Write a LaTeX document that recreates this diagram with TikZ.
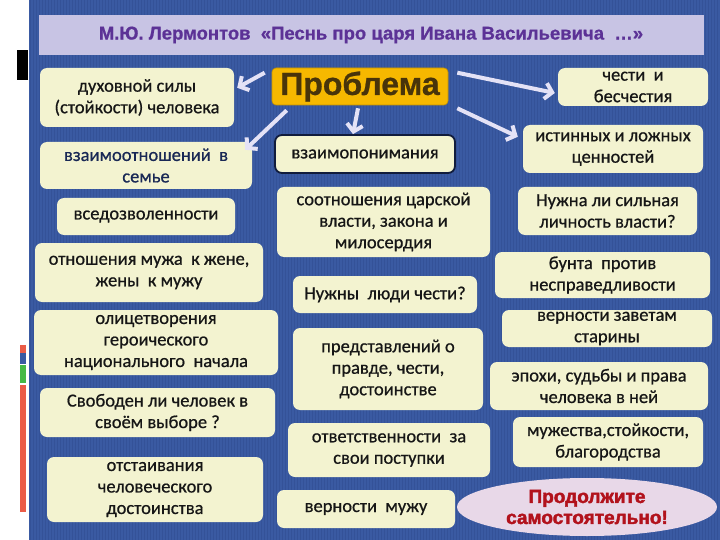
\documentclass[tikz,border=0pt]{standalone}
\usepackage{fontspec}
\setmainfont{Carlito}[FakeBold=0.7]
\newfontfamily\arialbf{Liberation Sans}[UprightFont={* Bold}, FakeBold=0.8]
\newfontfamily\heavyfont{Liberation Sans}[UprightFont={* Bold}, FakeBold=2.2]
\usetikzlibrary{arrows.meta,calc,shapes.geometric}
\definecolor{bgblue}{RGB}{58,90,162}
\definecolor{stripe}{RGB}{52,82,152}
\definecolor{cream}{RGB}{243,243,208}
\definecolor{band}{RGB}{200,196,228}
\definecolor{titlecol}{RGB}{92,50,150}
\definecolor{probfill}{RGB}{246,184,0}
\definecolor{probtext}{RGB}{72,52,10}
\definecolor{arrowcol}{RGB}{228,226,246}
\definecolor{txt}{RGB}{22,22,22}
\definecolor{navytxt}{RGB}{25,40,85}
\definecolor{ellfill}{RGB}{232,216,232}
\definecolor{redtxt}{RGB}{178,18,28}
\tikzset{
  box/.style={rectangle, rounded corners=7pt, fill=cream, text=txt, align=center,
    inner sep=0pt, font=\fontsize{18.5}{21.5}\selectfont},
  arr/.style={draw=arrowcol, line width=4pt, -{Straight Barb[length=7pt,width=16pt]}},
}
\newcommand{\bx}[6]{% name, x1, y1, x2, y2, text
  \node[box, minimum width={(#4-#2)*1pt}, minimum height={(#5-#3)*1pt}] (#1) at ({(#2+#4)/2},{(#3+#5)/2}) {#6};}
\begin{document}
\begin{tikzpicture}[x=1pt,y=-1pt]
\useasboundingbox (0,0) rectangle (720,540);
\fill[white] (0,0) rectangle (720,540);
\fill[bgblue] (29,0) rectangle (720,540);
\foreach \i in {0,...,229} {\draw[stripe, line width=1pt] ({30.5+3*\i},0) -- ({30.5+3*\i},540);}
\fill[black] (17,50) rectangle (28,80);
\fill[red!60!brown!80] (20,345) rectangle (26,353);
\fill[bgblue] (20,353) rectangle (26,364);
\fill[green!45!gray] (20,365) rectangle (26,383);
\fill[red!60!brown!80] (20,385) rectangle (26,512);
% title
\node[fill=band, minimum width=665pt, minimum height=40pt, inner sep=0pt, text=titlecol,
  font=\arialbf\fontsize{18.5}{20}\selectfont] (title) at (371,35)
  {М.Ю. Лермонтов\ \ «Песнь про царя Ивана Васильевича\ \ …»};
% problem
\node[rectangle, rounded corners=4pt, fill=probfill, draw=probfill!80!black, line width=0.6pt,
  minimum width=176pt, minimum height=37pt, inner sep=0pt, text=probtext,
  font=\arialbf\fontsize{32}{34}\selectfont] (prob) at (360,86.5) {Проблема};
% left column
\bx{l1}{40}{68}{234}{127}{духовной силы\\(стойкости) человека}
\node[box, minimum width=212pt, minimum height=47pt, text=navytxt] (l2) at (146,165.5) {взаимоотношений\ \ в\\семье};
\bx{l3}{57}{198}{235}{235}{вседозволенности}
\bx{l4}{35}{243}{263}{302}{отношения мужа\ \ к жене,\\жены\ \ к мужу}
\bx{l5}{34}{310}{278}{375}{олицетворения\\героического\\национального\ \ начала}
\bx{l6}{40}{388}{275}{437}{Свободен ли человек в\\своём выборе ?}
\bx{l7}{47}{457}{263}{522}{отстаивания\\человеческого\\достоинства}
% middle column
\node[box, draw=navytxt!70!black, line width=1.8pt, minimum width=180pt, minimum height=38pt] (m1) at (365,154) {взаимопонимания};
\bx{m2}{277}{187}{490}{257}{соотношения царской\\власти, закона и\\милосердия}
\bx{m3}{293}{276}{477}{313}{Нужны\ \ люди чести?}
\bx{m4}{293}{328}{483}{410}{представлений о\\правде, чести,\\достоинстве}
\bx{m5}{288}{423}{490}{477}{ответственности\ \ за\\свои поступки}
\bx{m6}{277}{490}{455}{528}{верности\ \ мужу}
% right column
\bx{r1}{558}{68}{708}{106}{чести\ \ и\\бесчестия}
\bx{r2}{523}{125}{703}{173}{истинных и ложных\\ценностей}
\bx{r3}{518}{187}{697}{235}{Нужна ли сильная\\личность власти?}
\bx{r4}{495}{252}{710}{298}{бунта\ \ против\\несправедливости}
\bx{r5}{502}{310}{712}{347}{верности заветам\\старины}
\bx{r6}{490}{362}{708}{410}{эпохи, судьбы и права\\человека в ней}
\bx{r7}{513}{417}{703}{467}{мужества,стойкости,\\благородства}
\node[ellipse, fill=ellfill, minimum width=260pt, minimum height=58pt, inner sep=0pt,
  text=redtxt, align=center, font=\heavyfont\fontsize{19}{21}\selectfont] (cont) at (587,507)
  {Продолжите\\самостоятельно!};
% arrows
\draw[arr] ([shift={(-7,5)}]prob.north west) -- ([shift={(3,20)}]l1.north east);
\draw[arr] ([shift={(15,5)}]prob.south west) -- ([shift={(-7,8)}]l2.north east);
\draw[arr] ([shift={(-2,3)}]prob.south) -- ([shift={(-12,0)}]m1.north);
\draw[arr] ([shift={(9,5)}]prob.north east) -- ([shift={(-3,6)}]r1.west);
\draw[arr] ([shift={(9,3)}]prob.south east) -- ([shift={(-5,12)}]r2.north west);
\end{tikzpicture}
\end{document}
